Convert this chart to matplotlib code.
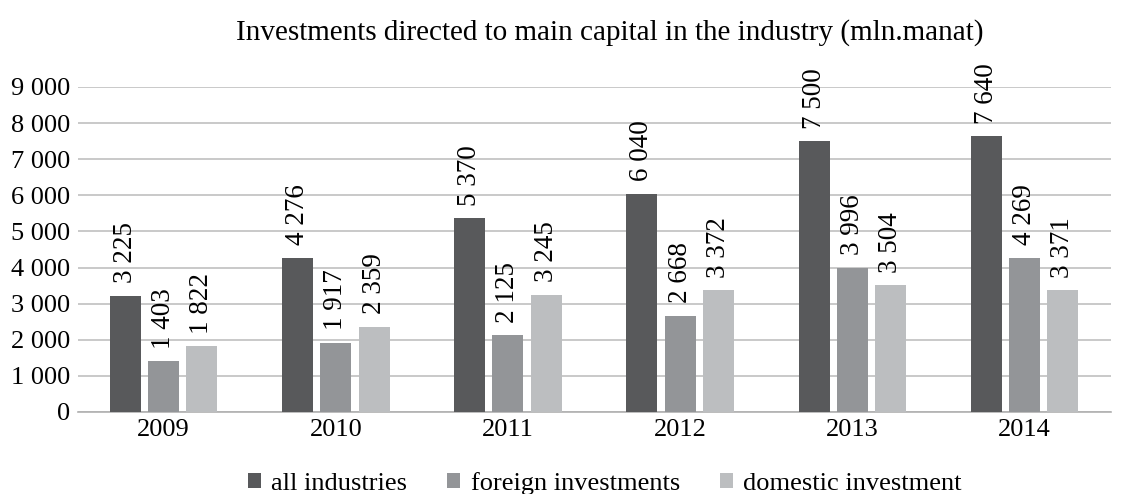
import numpy as np
import matplotlib.pyplot as plt

plt.rcParams['font.family'] = ['Liberation Serif', 'DejaVu Serif']

years = ['2009', '2010', '2011', '2012', '2013', '2014']
all_industries = [3225, 4276, 5370, 6040, 7500, 7640]
foreign = [1403, 1917, 2125, 2668, 3996, 4269]
domestic = [1822, 2359, 3245, 3372, 3504, 3371]
series_names = ['all industries', 'foreign investments', 'domestic investment']
colors = ['#58595b', '#939598', '#bcbec0']


def fmt(v):
    return f'{v:,}'.replace(',', ' ')


fig = plt.figure(figsize=(11.24, 4.94), dpi=100)
ax = fig.add_axes([0.069, 0.166, 0.919, 0.658])

x = np.arange(len(years))
w = 0.18
step = 0.222
for i, (vals, name, c) in enumerate(zip([all_industries, foreign, domestic], series_names, colors)):
    pos = x + (i - 1) * step
    bars = ax.bar(pos, vals, width=w, color=c, label=name, zorder=3)
    for b, v in zip(bars, vals):
        ax.annotate(fmt(v), (b.get_x() + b.get_width() / 2, v), xytext=(0, 9),
                    textcoords='offset points', rotation=90, ha='center', va='bottom',
                    fontsize=19.5)

ax.set_ylim(0, 9000)
ax.set_xlim(-0.5, len(years) - 0.5)
ax.set_yticks(np.arange(0, 9001, 1000))
ax.set_yticklabels([fmt(v) for v in range(0, 9001, 1000)], fontsize=19)
ax.set_xticks(x)
ax.set_xticklabels(years, fontsize=19)
ax.tick_params(length=0, pad=5)
ax.grid(axis='y', color='#c0c0c0', linewidth=1.2, zorder=0)
for s in ['top', 'right', 'left']:
    ax.spines[s].set_visible(False)
ax.spines['bottom'].set_color('#b0b0b0')
ax.spines['bottom'].set_linewidth(1.2)

ax.set_title('Investments directed to main capital in the industry (mln.manat)',
             fontsize=21, pad=34, x=0.515)

leg = fig.legend(loc='lower center', bbox_to_anchor=(0.538, -0.05), ncol=3, frameon=False,
                 fontsize=19, handlelength=0.5, handleheight=0.5, handletextpad=0.4,
                 columnspacing=1.5)
for t in leg.get_texts():
    t.set_fontfamily(['Liberation Serif', 'DejaVu Serif'])

fig.savefig('out.png', dpi=100)
